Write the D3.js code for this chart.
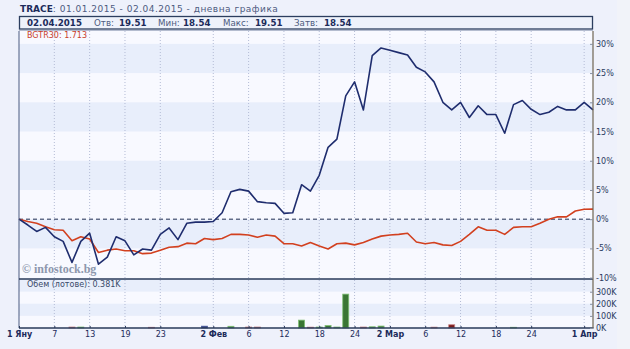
<!DOCTYPE html>
<html><head><meta charset="utf-8">
<script src="https://cdn.jsdelivr.net/npm/d3@7"></script>
<style>
body{margin:0;background:#eef1fb;}
svg{display:block;font-family:"DejaVu Sans",Verdana,sans-serif;}
</style>
</head><body><svg id="c" width="630" height="349"></svg>
<script>
// Trading days 01.01.2015 - 02.04.2015
const dates = ["01.01","02.01","05.01","06.01","07.01","08.01","09.01","12.01","13.01","14.01","15.01","16.01","19.01","20.01","21.01","22.01","23.01","26.01","27.01","28.01","29.01","30.01",
"02.02","03.02","04.02","05.02","06.02","09.02","10.02","11.02","12.02","13.02","16.02","17.02","18.02","19.02","20.02","23.02","24.02","25.02","26.02","27.02",
"02.03","03.03","04.03","05.03","06.03","09.03","10.03","11.03","12.03","13.03","16.03","17.03","18.03","19.03","20.03","23.03","24.03","25.03","26.03","27.03","30.03","31.03",
"01.04","02.04"];
// TRACE % change
const traceChange = [0,-1.0,-2.1,-1.4,-3.0,-3.8,-7.4,-3.8,-2.4,-7.7,-6.5,-3.0,-3.7,-6.1,-5.1,-5.3,-2.6,-1.5,-3.5,-0.7,-0.5,-0.5,
-0.4,1.1,4.7,5.1,4.8,3.0,2.8,2.7,1.0,1.1,5.9,4.8,7.5,12.3,13.7,21.1,23.5,18.7,28.0,29.3,
28.9,28.5,28.1,26.0,25.2,23.5,20.0,18.7,20.0,17.4,19.4,17.9,17.9,14.7,19.6,20.3,18.8,17.9,18.3,19.3,18.7,18.7,
20.0,18.7];
// BGTR30 % change
const bgtr30Change = [0,-0.4,-0.7,-1.3,-1.8,-1.9,-3.7,-3.0,-3.4,-5.7,-5.3,-5.1,-5.4,-5.4,-5.9,-5.8,-5.3,-4.8,-4.7,-4.1,-4.2,-3.3,
-3.5,-3.3,-2.6,-2.6,-2.7,-3.1,-2.7,-2.9,-4.2,-4.2,-4.6,-4.0,-4.6,-5.1,-4.2,-4.1,-4.4,-4.0,-3.4,-2.9,
-2.7,-2.6,-2.4,-3.9,-4.2,-4.0,-4.4,-4.5,-3.8,-2.6,-1.3,-1.9,-1.9,-2.6,-1.4,-1.3,-1.3,-0.7,0.0,0.4,0.4,1.4,
1.7,1.713];
// Volume (lots)
const volume = [0,0,0,0,0,0,8000,8000,0,0,0,0,0,0,0,6000,0,0,0,0,0,15000,
0,0,14000,0,8000,8000,0,0,0,0,65000,7000,8000,20000,8000,280000,0,8000,10000,16000,
0,0,0,0,0,7000,0,27000,0,0,0,0,0,0,6000,0,0,0,0,0,0,0,
0,381];
const tickDates = ["01.01","07.01","13.01","19.01","23.01","02.02","06.02","12.02","18.02","24.02","02.03","06.03","12.03","18.03","24.03","01.04"];
const tickLabels = ["1 Яну","7","13","19","23","2 Фев","6","12","18","24","2 Мар","6","12","18","24","1 Апр"];
const monthStarts = ["1 Яну","2 Фев","2 Мар","1 Апр"];
const pctTicks = [30,25,20,15,10,5,0,-5,-10];
const volTicks = [300000,200000,100000,0];
const volBands = [[300000,405000],[200000,300000],[100000,200000],[0,100000]];

const svg = d3.select("#c");
const L = 19, R = 593, T = 31, MB = 279, VB = 328;

const x = d3.scalePoint().domain(dates).range([L, R]);
const y = d3.scaleLinear().domain([-10.15, 32.2]).range([278.5, T]);
const yv = d3.scaleLinear().domain([0, 405000]).range([VB, MB]);

// right strip
svg.append("rect").attr("x",617).attr("y",0).attr("width",13).attr("height",349).attr("fill","#f1f3f9");

// main panel background
svg.append("rect").attr("x",L).attr("y",T).attr("width",R-L).attr("height",MB-T).attr("fill","#f8f9ff");
for (let i = 0; i < pctTicks.length - 1; i++) {
  if (i % 2 === 0) {
    svg.append("rect").attr("x",L).attr("width",R-L)
      .attr("y",y(pctTicks[i])).attr("height",y(pctTicks[i+1])-y(pctTicks[i]))
      .attr("fill","#e8eefb");
  }
}
// volume panel background
volBands.forEach((b,i)=>{
  svg.append("rect").attr("x",L).attr("width",R-L)
    .attr("y",yv(b[1])).attr("height",yv(b[0])-yv(b[1]))
    .attr("fill", i%2===0 ? "#e8eefb" : "#f8f9ff");
});

// vertical dotted grid
svg.append("g").selectAll("line").data(tickDates.slice(1)).join("line")
  .attr("x1",d=>x(d)).attr("x2",d=>x(d)).attr("y1",T).attr("y2",VB)
  .attr("stroke","#b3bbd5").attr("stroke-width",1).attr("stroke-dasharray","1,2");

// zero dashed line
svg.append("line").attr("x1",L).attr("x2",R).attr("y1",y(0)).attr("y2",y(0))
  .attr("stroke","#1f2d50").attr("stroke-width",1).attr("stroke-dasharray","4,3");

// lines
const line = d3.line().x((d,i)=>x(dates[i])).y(d=>y(d));
svg.append("path").datum(bgtr30Change).attr("d",line).attr("fill","none")
  .attr("stroke","#d2401f").attr("stroke-width",1.6).attr("stroke-linejoin","round");
svg.append("path").datum(traceChange).attr("d",line).attr("fill","none")
  .attr("stroke","#1f2d6e").attr("stroke-width",1.6).attr("stroke-linejoin","round");

// volume bars
svg.append("g").selectAll("rect").data(volume).join("rect")
  .attr("x",(d,i)=>x(dates[i])-3).attr("width",6)
  .attr("y",d=>yv(d)).attr("height",d=>VB-yv(d))
  .attr("fill",(d,i)=>{ if(i===0) return "#1f2d6e"; const c=traceChange[i]-traceChange[i-1]; return c>0?"#3a7634":(c<0?"#7a1b1b":"#1f2d6e");})
  .attr("stroke",(d,i)=>{ if(i===0) return "#5060a0"; const c=traceChange[i]-traceChange[i-1]; return c>0?"#7fbf74":(c<0?"#c98585":"#5060a0");})
  .attr("stroke-width",d=>d>0?0.8:0)
  .attr("display",d=>d>1000?null:"none");

// frame lines
svg.append("line").attr("x1",L).attr("x2",R).attr("y1",30.5).attr("y2",30.5).attr("stroke","#b4bccf");
svg.append("line").attr("x1",L).attr("x2",L).attr("y1",T).attr("y2",VB).attr("stroke","#4a5a80");
svg.append("line").attr("x1",L).attr("x2",R).attr("y1",MB).attr("y2",MB).attr("stroke","#2a3a5a").attr("stroke-width",1.3);
svg.append("line").attr("x1",L).attr("x2",R+0.5).attr("y1",VB).attr("y2",VB).attr("stroke","#2a3a5a").attr("stroke-width",1.3);
svg.append("line").attr("x1",R).attr("x2",R).attr("y1",T).attr("y2",VB).attr("stroke","#6f6552").attr("stroke-width",1.2);

// right axes
const ax1 = svg.append("g").attr("transform",`translate(${R},0)`)
  .call(d3.axisRight(y).tickValues(pctTicks).tickFormat(d=>d+"%").tickSizeInner(-3).tickSizeOuter(0).tickPadding(3));
const ax2 = svg.append("g").attr("transform",`translate(${R},0)`)
  .call(d3.axisRight(yv).tickValues(volTicks).tickFormat(d=>(d/1000)+"K").tickSizeInner(-3).tickSizeOuter(0).tickPadding(3));
[ax1,ax2].forEach(a=>{
  a.select(".domain").remove();
  a.selectAll("line").attr("stroke","#8890a0");
  a.selectAll("text").attr("fill","#2a3a60").attr("font-size","8px").attr("font-family","DejaVu Sans, sans-serif");
});

// bottom axis
const labelOf = d3.scaleOrdinal(tickDates, tickLabels);
const axb = svg.append("g").attr("transform",`translate(0,${VB})`)
  .call(d3.axisBottom(x).tickValues(tickDates).tickFormat(d=>labelOf(d)).tickSizeInner(-2).tickSizeOuter(0).tickPadding(3.5));
axb.select(".domain").remove();
axb.selectAll("line").attr("stroke","#2a3a5a");
axb.selectAll("text").attr("fill","#1c2b5a").attr("font-size","8px").attr("font-family","DejaVu Sans, sans-serif")
  .attr("font-weight",d=>monthStarts.includes(labelOf(d))?"bold":"normal");

// title
const title = svg.append("text").attr("x",20).attr("y",12).attr("font-size","9px");
title.append("tspan").attr("font-weight","bold").attr("fill","#1c2b5a").text("TRACE");
title.append("tspan").attr("fill","#4d5b80").attr("letter-spacing","0.5px").text(": 01.01.2015 - 02.04.2015 - дневна графика");

// header box
svg.append("rect").attr("x",19.5).attr("y",16.5).attr("width",573).attr("height",12.5)
  .attr("fill","#eef2fb").attr("stroke","#2c3e5f").attr("stroke-width",1.3);
const hdr = [["02.04.2015",27,true],["Отв:",94,false],["19.51",119,true],["Мин:",158,false],["18.54",183,true],
  ["Макс:",223,false],["19.51",255,true],["Затв:",294,false],["18.54",324,true]];
hdr.forEach(([t,xx,b])=>{
  svg.append("text").attr("x",xx).attr("y",26).attr("font-size","8.7px")
    .attr("font-weight",b?"bold":"normal").attr("fill",b?"#1c2b5a":"#4d5b80").text(t);
});

// legends
svg.append("text").attr("x",27).attr("y",38).attr("font-size","8px").attr("fill","#c8402a").text("BGTR30: 1.713");
svg.append("text").attr("x",27).attr("y",287).attr("font-size","8px").attr("fill","#3a4a6a").text("Обем (лотове): 0.381K");
svg.append("text").attr("x",22).attr("y",273).attr("font-size","12px").attr("font-weight","bold")
  .attr("font-family","Liberation Serif, serif").attr("fill","#8d97ad").text("© infostock.bg");
</script>
</body></html>
